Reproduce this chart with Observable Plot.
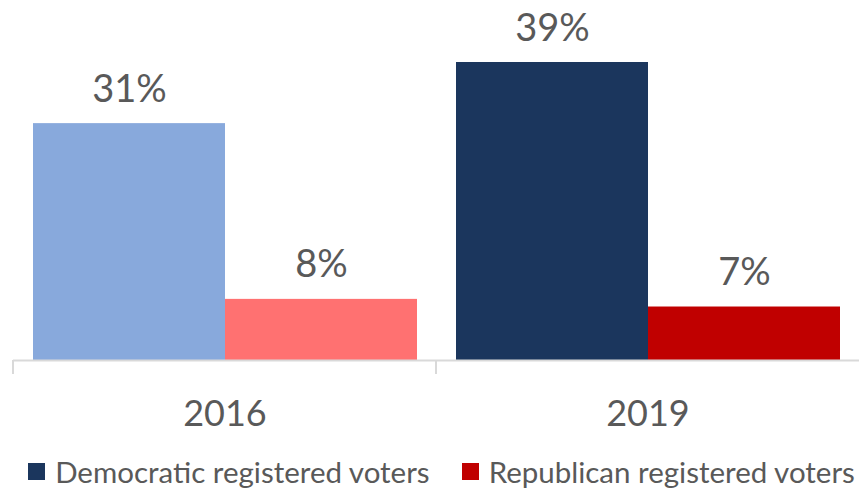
<!DOCTYPE html>
<html><head><meta charset="utf-8">
<script src="https://cdn.jsdelivr.net/npm/d3@7"></script>
<script src="https://cdn.jsdelivr.net/npm/@observablehq/plot@0.6"></script>
<style>
html,body{margin:0;padding:0;background:#fff;}
body{width:859px;height:489px;overflow:hidden;font-family:Lato,sans-serif;}
#chart svg{display:block;}
#legend{display:flex;justify-content:center;align-items:center;margin-top:14px;height:34px;font-size:29.5px;color:#595959;font-family:Lato,sans-serif;padding-left:24px;}
#legend .item{display:flex;align-items:center;}
#legend .item + .item{margin-left:32px;}
#legend .sw{width:17px;height:17px;margin-right:10px;}
</style></head><body>
<div id="chart"></div>
<div id="legend"></div>
<script>
const years = ["2016", "2019"];
const parties = ["Democratic registered voters", "Republican registered voters"];
const demValues = [31, 39];
const repValues = [8, 7];
const colors2016 = ["#88A9DC", "#FF7171"];
const colors2019 = ["#1B365D", "#C00000"];
const legendColors = ["#1B365D", "#C00000"];

const rows = [];
years.forEach((yr, i) => {
  const cols = i === 0 ? colors2016 : colors2019;
  rows.push({year: yr, party: parties[0], value: demValues[i], color: cols[0]});
  rows.push({year: yr, party: parties[1], value: repValues[i], color: cols[1]});
});

function catTicks(index, scales, values, dims) {
  const y0 = scales.y(0);
  const xl = dims.marginLeft;
  const g = d3.create("svg:g");
  g.append("line")
    .attr("x1", xl).attr("x2", xl)
    .attr("y1", y0).attr("y2", y0 + 14)
    .attr("stroke", "#d9d9d9").attr("stroke-width", 2);
  return g.node();
}

const plot = Plot.plot({
  width: 859,
  height: 440,
  marginLeft: 12,
  marginRight: 0,
  marginTop: 62,
  marginBottom: 80,
  style: {fontFamily: "Lato, sans-serif", background: "#fff"},
  fx: {domain: years, padding: 0, label: null},
  x: {domain: parties, paddingInner: 0, paddingOuter: 0.098, axis: null},
  y: {domain: [0, 39], axis: null},
  color: {type: "identity"},
  marks: [
    Plot.barY(rows, {fx: "year", x: "party", y: "value", fill: "color"}),
    Plot.ruleY([0], {stroke: "#d9d9d9", strokeWidth: 2}),
    Plot.ruleY([0], {render: catTicks}),
    Plot.text(rows, {fx: "year", x: "party", y: "value", text: d => d.value + "%", dy: -22, lineAnchor: "bottom", fontSize: 38, fill: "#595959"}),
    Plot.axisFx({anchor: "bottom", tickSize: 0, tickPadding: 40, fontSize: 36, fill: "#595959", label: null})
  ]
});
document.getElementById("chart").appendChild(plot);

const legend = document.getElementById("legend");
parties.forEach((p, i) => {
  const item = document.createElement("div");
  item.className = "item";
  const sw = document.createElement("span");
  sw.className = "sw";
  sw.style.background = legendColors[i];
  const lab = document.createElement("span");
  lab.textContent = p;
  item.appendChild(sw);
  item.appendChild(lab);
  legend.appendChild(item);
});
</script>
</body></html>
